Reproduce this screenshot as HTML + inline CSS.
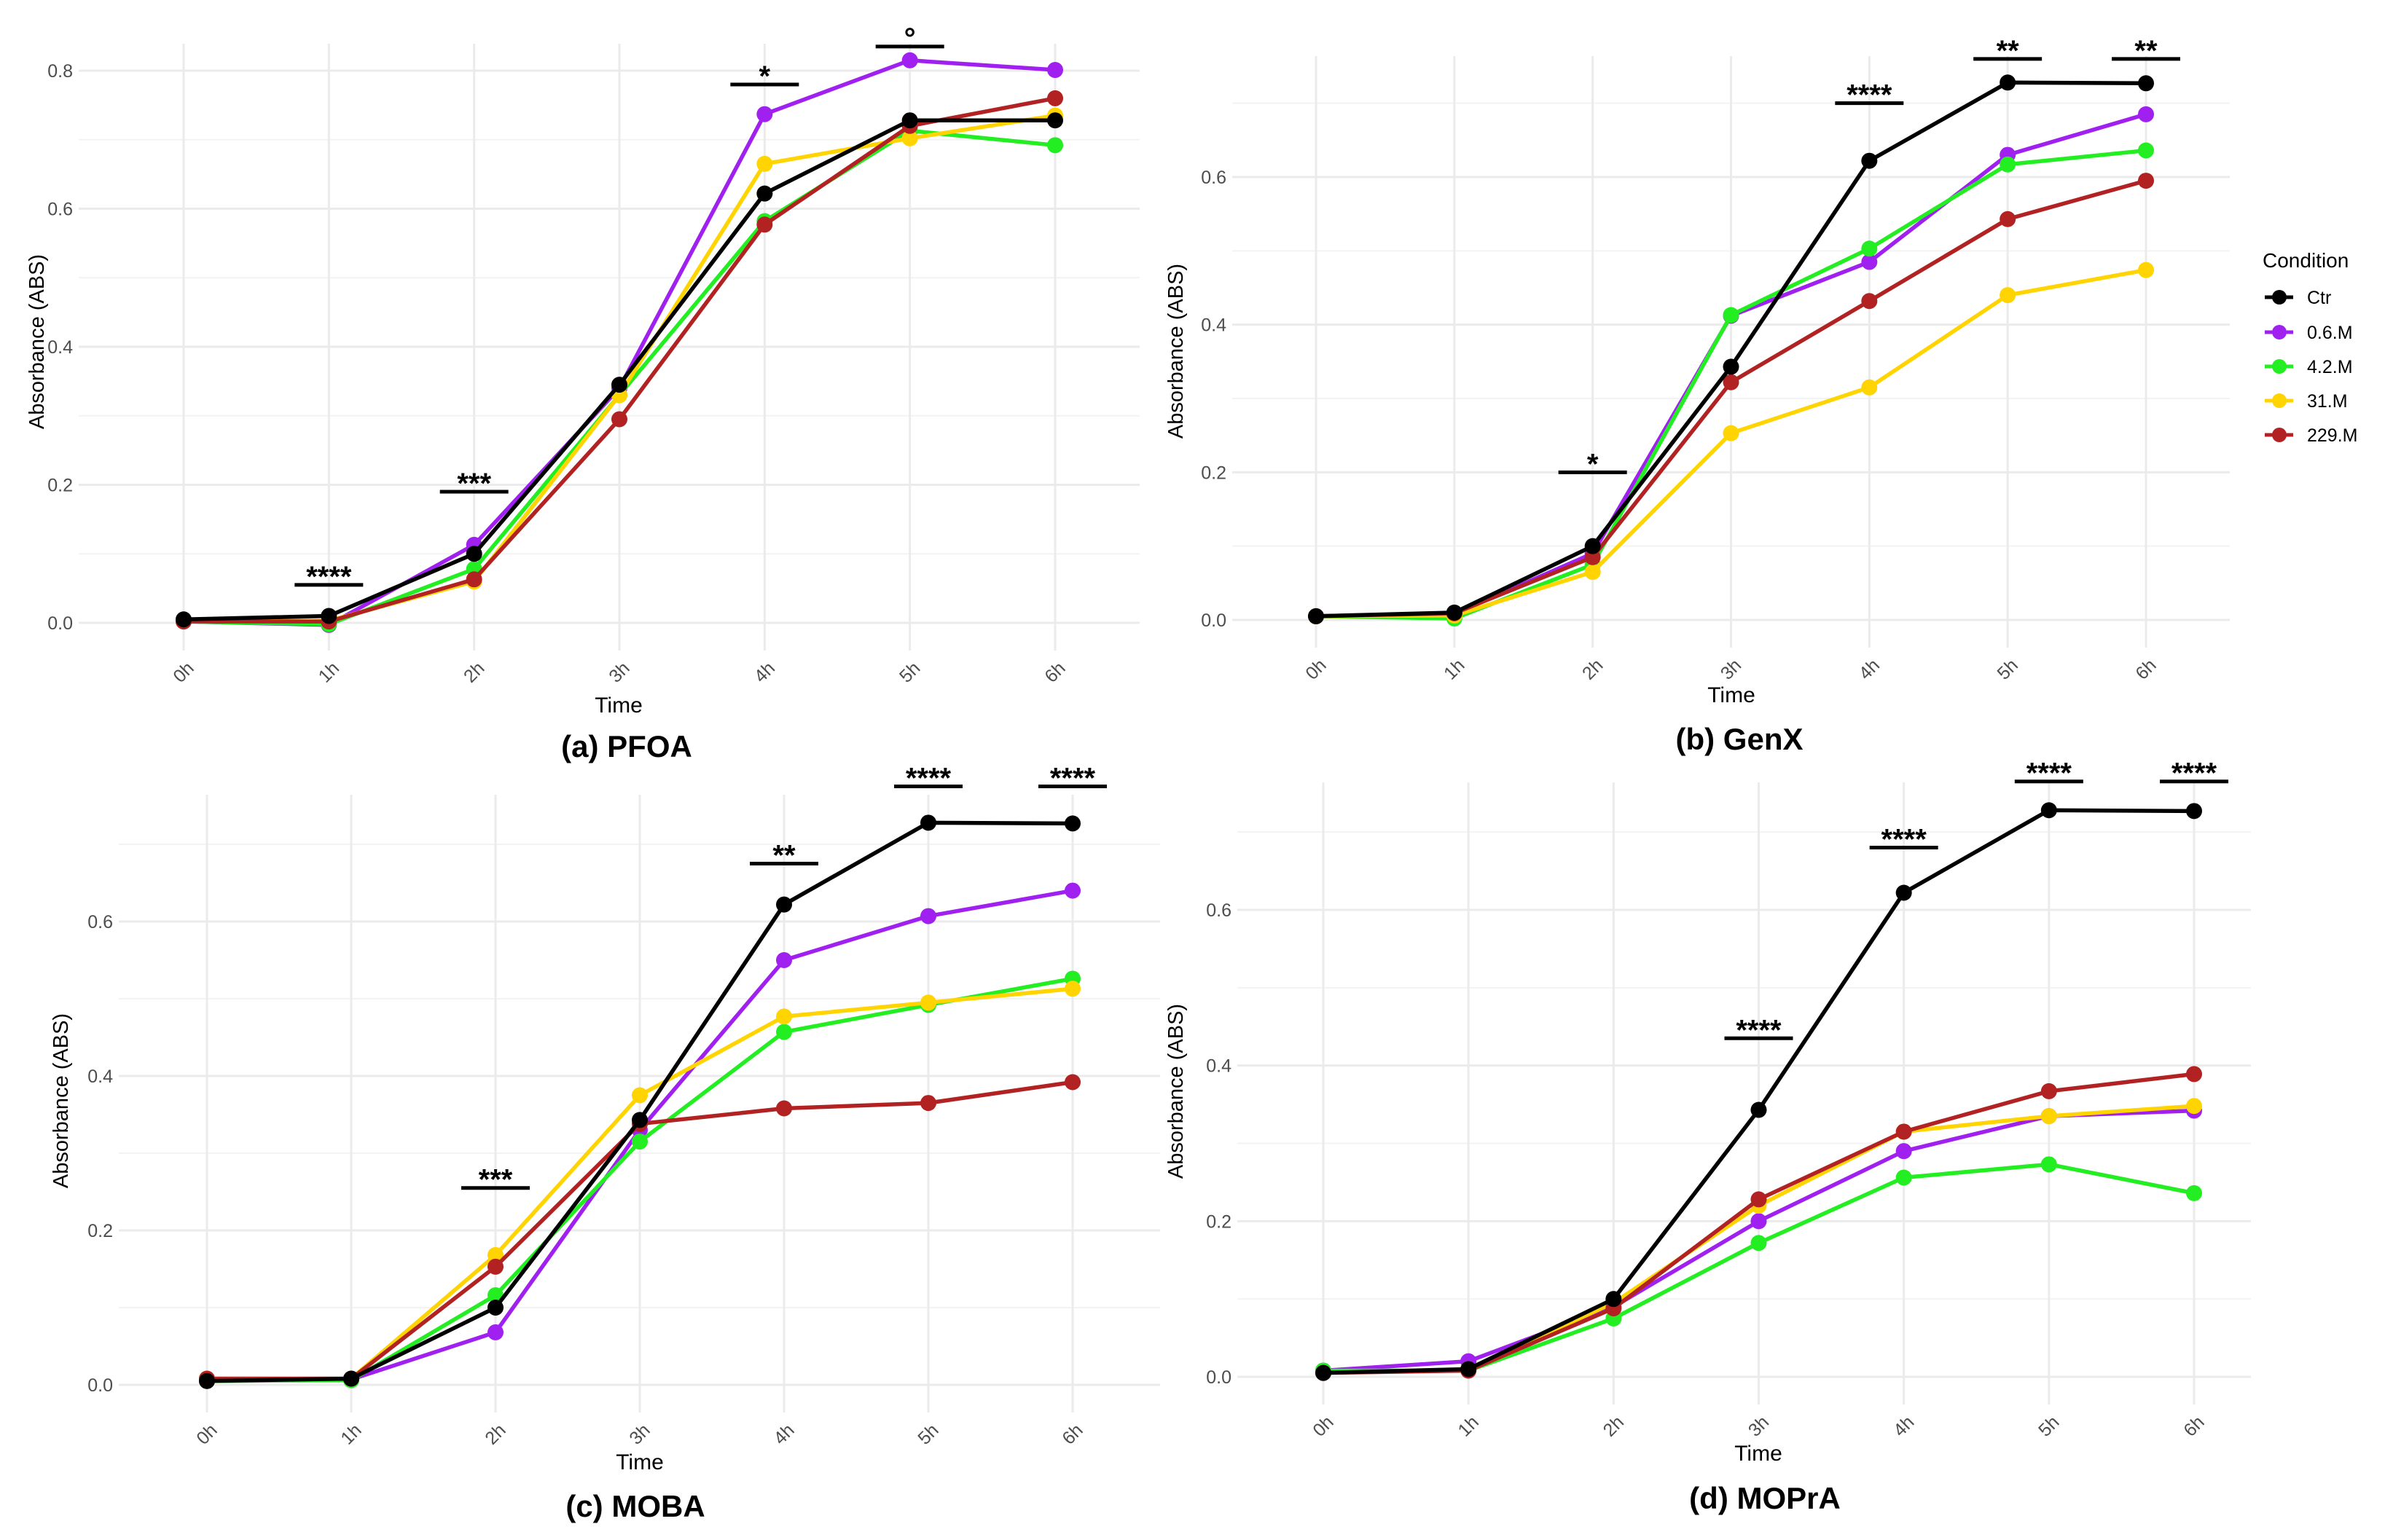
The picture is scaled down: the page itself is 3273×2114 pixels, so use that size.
<!DOCTYPE html>
<html><head><meta charset="utf-8"><style>
html,body{margin:0;padding:0;background:#fff;}
svg{display:block;font-family:"Liberation Sans",sans-serif;}
</style></head><body>
<svg id="fig" width="3273" height="2114" viewBox="0 0 3273 2114" xmlns="http://www.w3.org/2000/svg"></svg>
<script>
const categories = ["0h","1h","2h","3h","4h","5h","6h"];
const seriesNames = ["Ctr","0.6.M","4.2.M","31.M","229.M"];
const seriesColors = ["#000000","#a020f0","#22ee22","#ffd400","#b22222"];

const pfoaCtr  = [0.005,0.010,0.100,0.345,0.622,0.728,0.728];
const pfoa06   = [0.002,-0.003,0.113,0.340,0.737,0.815,0.801];
const pfoa42   = [0.002,-0.002,0.078,0.330,0.582,0.713,0.692];
const pfoa31   = [0.002,0.003,0.060,0.330,0.665,0.702,0.735];
const pfoa229  = [0.002,0.002,0.063,0.295,0.577,0.720,0.760];

const genxCtr  = [0.005,0.010,0.100,0.343,0.622,0.728,0.727];
const genx06   = [0.005,0.008,0.090,0.412,0.485,0.630,0.685];
const genx42   = [0.005,0.002,0.075,0.413,0.503,0.617,0.636];
const genx31   = [0.005,0.006,0.065,0.253,0.315,0.440,0.474];
const genx229  = [0.005,0.009,0.085,0.322,0.432,0.543,0.595];

const mobaCtr  = [0.005,0.008,0.100,0.343,0.622,0.728,0.727];
const moba06   = [0.005,0.007,0.068,0.330,0.550,0.607,0.640];
const moba42   = [0.005,0.006,0.116,0.315,0.457,0.492,0.526];
const moba31   = [0.008,0.008,0.168,0.375,0.477,0.495,0.513];
const moba229  = [0.008,0.008,0.153,0.338,0.358,0.365,0.392];

const moprCtr  = [0.005,0.010,0.100,0.343,0.622,0.728,0.727];
const mopr06   = [0.008,0.020,0.090,0.200,0.290,0.335,0.342];
const mopr42   = [0.008,0.008,0.075,0.172,0.256,0.273,0.236];
const mopr31   = [0.005,0.010,0.095,0.220,0.315,0.335,0.348];
const mopr229  = [0.005,0.008,0.088,0.228,0.315,0.367,0.389];

const pfoaSigIdx = [1,2,4,5]; const pfoaSigY = [0.055,0.19,0.78,0.835]; const pfoaSigTxt = ["****","***","*","°"];
const genxSigIdx = [2,4,5,6]; const genxSigY = [0.20,0.70,0.76,0.76]; const genxSigTxt = ["*","****","**","**"];
const mobaSigIdx = [2,4,5,6]; const mobaSigY = [0.255,0.675,0.775,0.775]; const mobaSigTxt = ["***","**","****","****"];
const moprSigIdx = [3,4,5,6]; const moprSigY = [0.435,0.68,0.765,0.765]; const moprSigTxt = ["****","****","****","****"];

const yTicksA = [0,0.2,0.4,0.6,0.8];
const yTicksB = [0,0.2,0.4,0.6];

const NS = "http://www.w3.org/2000/svg";
const svg = document.getElementById('fig');
function mk(tag, attrs, parent, text){
  const e = document.createElementNS(NS, tag);
  for (const k in attrs) e.setAttribute(k, attrs[k]);
  if (text !== undefined) e.textContent = text;
  (parent||svg).appendChild(e);
  return e;
}

function panel(cfg){
  const g = mk('g', {});
  
  
  const x = i => cfg.x0 + (cfg.x6 - cfg.x0) * i / 6;
  const y = v => cfg.yZero - v * cfg.pxPer;
  const bottom = cfg.yZero + 38;
  for (let v = 0.1; v <= cfg.yMax; v += 0.2) {
    const l = mk('line', {x1:cfg.gx0, x2:cfg.gx1, y1:y(v), y2:y(v), stroke:'#f3f3f3', 'stroke-width':2}, g);
    
    
  }
  cfg.ticks.forEach(v => {
    const l = mk('line', {x1:cfg.gx0, x2:cfg.gx1, y1:y(v), y2:y(v), stroke:'#ebebeb', 'stroke-width':3}, g);
    
    
    const t = mk('text', {x:cfg.gx0-8, y:y(v)+9, 'text-anchor':'end', 'font-size':25, fill:'#4d4d4d'}, g, v.toFixed(1));
    
    
  });
  categories.forEach((c,i) => {
    const l = mk('line', {x1:x(i), x2:x(i), y1:cfg.gy0, y2:bottom, stroke:'#ebebeb', 'stroke-width':3}, g);
    
    
    const ty = cfg.yZero + 68;
    const t = mk('text', {x:x(i), y:ty+8, 'text-anchor':'middle', 'font-size':25, fill:'#4d4d4d', transform:`rotate(-45 ${x(i)} ${ty})`}, g, c);
    
    
  });
  const order = [1,2,3,4,0];
  order.forEach(s => {
    const arr = cfg.series[s];
    const pts = arr.map((v,i) => x(i)+','+y(v)).join(' ');
    const pl = mk('polyline', {points:pts, fill:'none', stroke:seriesColors[s], 'stroke-width':5.5, 'stroke-linejoin':'round'}, g);
    
    
    arr.forEach((v,i) => {
      const c = mk('circle', {cx:x(i), cy:y(v), r:11, fill:seriesColors[s]}, g);
      
      
    });
  });
  cfg.sigIdx.forEach((idx, k) => {
    const yy = y(cfg.sigY[k]);
    const l = mk('line', {x1:x(idx)-47, x2:x(idx)+47, y1:yy, y2:yy, stroke:'#000', 'stroke-width':5}, g);
    
    
    const t = mk('text', {x:x(idx), y:yy+2, 'text-anchor':'middle', 'font-size':40, 'font-weight':'bold', fill:'#000'}, g, cfg.sigTxt[k]);
    
    
  });
  const yt = mk('text', {x:cfg.ytx, y:cfg.yty, 'text-anchor':'middle', 'font-size':29, fill:'#000', transform:`rotate(-90 ${cfg.ytx} ${cfg.yty})`}, g, 'Absorbance (ABS)');
  
  
  const xt = mk('text', {x:cfg.xtx, y:cfg.xty+10, 'text-anchor':'middle', 'font-size':30, fill:'#000'}, g, 'Time');
  
  
  const tt = mk('text', {x:cfg.ttx, y:cfg.tty+14, 'text-anchor':'middle', 'font-size':42, 'font-weight':'bold', fill:'#000'}, g, cfg.title);
  
  
}

panel({name:'panel-pfoa', x0:252, x6:1448, yZero:855, pxPer:(855-97)/0.8, yMax:0.8, ticks:yTicksA,
  gx0:108, gx1:1564, gy0:60, series:[pfoaCtr,pfoa06,pfoa42,pfoa31,pfoa229],
  sigIdx:pfoaSigIdx, sigY:pfoaSigY, sigTxt:pfoaSigTxt, ytx:60, yty:469, xtx:849, xty:968, ttx:860, tty:1025, title:'(a) PFOA'});
panel({name:'panel-genx', x0:1806, x6:2945, yZero:851, pxPer:(851-243)/0.6, yMax:0.75, ticks:yTicksB,
  gx0:1691, gx1:3060, gy0:77, series:[genxCtr,genx06,genx42,genx31,genx229],
  sigIdx:genxSigIdx, sigY:genxSigY, sigTxt:genxSigTxt, ytx:1623, yty:482, xtx:2376, xty:954, ttx:2387, tty:1015, title:'(b) GenX'});
panel({name:'panel-moba', x0:284, x6:1472, yZero:1901, pxPer:(1901-1265)/0.6, yMax:0.75, ticks:yTicksB,
  gx0:163, gx1:1592, gy0:1091, series:[mobaCtr,moba06,moba42,moba31,moba229],
  sigIdx:mobaSigIdx, sigY:mobaSigY, sigTxt:mobaSigTxt, ytx:93, yty:1511, xtx:878, xty:2007, ttx:872, tty:2068, title:'(c) MOBA'});
panel({name:'panel-mopra', x0:1816, x6:3011, yZero:1890, pxPer:(1890-1249)/0.6, yMax:0.75, ticks:yTicksB,
  gx0:1698, gx1:3089, gy0:1074, series:[moprCtr,mopr06,mopr42,mopr31,mopr229],
  sigIdx:moprSigIdx, sigY:moprSigY, sigTxt:moprSigTxt, ytx:1623, yty:1498, xtx:2413, xty:1995, ttx:2422, tty:2057, title:'(d) MOPrA'});

const lg = mk('g', {});


const lt = mk('text', {x:3105, y:367, 'font-size':28, fill:'#000'}, lg, 'Condition');


const legendY = [408,456,503,550,597];
seriesNames.forEach((n,s) => {
  const e = mk('g', {}, lg);
  
  
  mk('line', {x1:3108, x2:3147, y1:legendY[s], y2:legendY[s], stroke:seriesColors[s], 'stroke-width':5}, e);
  mk('circle', {cx:3128, cy:legendY[s], r:10, fill:seriesColors[s]}, e);
  mk('text', {x:3166, y:legendY[s]+9, 'font-size':25, fill:'#000'}, e, n);
});
</script>
</body></html>
